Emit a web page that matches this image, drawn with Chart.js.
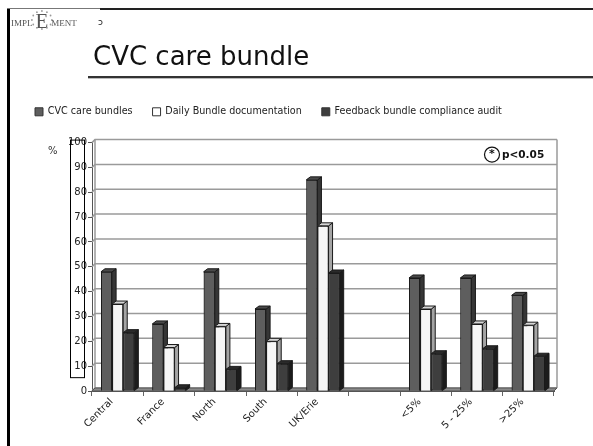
<!DOCTYPE html>
<html>
<head>
<meta charset="utf-8">
<script src="https://cdn.jsdelivr.net/npm/chart.js@4.4.1/dist/chart.umd.min.js"></script>
<style>
  html, body { margin: 0; padding: 0; background: #fff; }
  #wrap { position: relative; width: 593px; height: 446px; }
</style>
</head>
<body>
<div id="wrap"><canvas id="c" width="593" height="446"></canvas></div>
<script>
// Regions and hospital-size groups (blank slot separates the two groups)
const categories = ['Central', 'France', 'North', 'South', 'UK/Erie', '', '<5%', '5 - 25%', '>25%'];
// Percentages per series
const cvcCareBundles      = [48, 27, 48, 33, 85, null, 45.5, 45.5, 38.5];
const dailyDocumentation  = [35, 17.5, 26, 20, 66.5, null, 33, 27, 26.5];
const feedbackAudit       = [23.5, 1.3, 8.7, 11, 47.5, null, 15, 17, 14];
const seriesNames = ['CVC care bundles', 'Daily Bundle documentation', 'Feedback bundle compliance audit'];
const yMax = 100;
const yStep = 10;

const FONT = "'DejaVu Sans', Verdana, sans-serif";
const SERIF = "'Liberation Serif', 'DejaVu Serif', serif";

// front / side / top shades for the extruded columns
const shades = [
  { front: '#5e5e5e', side: '#363636', top: '#4a4a4a' },
  { front: '#f6f6f6', side: '#a4a4a4', top: '#d6d6d6' },
  { front: '#3e3e3e', side: '#1c1c1c', top: '#2a2a2a' }
];
const DEPTH_X = 4, DEPTH_Y = 3;   // column extrusion
const WALL_X = 3, WALL_Y = 3;     // back-wall offset

// slide frame, logo, heading, 3D extras
const slidePlugin = {
  id: 'slide',
  beforeDraw(chart) {
    const ctx = chart.ctx;
    ctx.save();
    ctx.fillStyle = '#fff';
    ctx.fillRect(0, 0, chart.width, chart.height);

    // frame
    ctx.fillStyle = '#000';
    ctx.fillRect(7, 8, 3, chart.height - 8);
    ctx.fillStyle = '#222';
    ctx.fillRect(100, 8, chart.width - 100, 2);
    ctx.fillStyle = '#777';
    ctx.fillRect(7, 8, 93, 1);

    // logo
    ctx.fillStyle = '#555';
    ctx.textBaseline = 'alphabetic';
    ctx.textAlign = 'left';
    ctx.font = '9px ' + SERIF;
    let x = 11;
    ctx.fillText('IMPL', x, 26);
    x += ctx.measureText('IMPL').width + 3;
    ctx.font = '21px ' + SERIF;
    ctx.fillText('E', x, 28);
    const eW = ctx.measureText('E').width;
    const cx = x + eW / 2, cy = 20;
    ctx.fillStyle = '#999';
    for (let k = 0; k < 12; k++) {
      const a = k / 12 * Math.PI * 2;
      ctx.beginPath();
      ctx.arc(cx + Math.cos(a) * 10, cy + Math.sin(a) * 9, 0.9, 0, Math.PI * 2);
      ctx.fill();
    }
    ctx.fillStyle = '#555';
    x += eW + 3;
    ctx.font = '9px ' + SERIF;
    ctx.fillText('MENT', x, 26);

    ctx.fillStyle = '#222';
    ctx.font = '9px ' + FONT;
    ctx.fillText('ɔ', 98, 25);

    // heading + rule
    ctx.fillStyle = '#111';
    ctx.font = '26px ' + FONT;
    ctx.fillText('CVC care bundle', 93, 65);
    ctx.fillStyle = '#333';
    ctx.fillRect(88, 76, chart.width - 88, 2);
    ctx.fillStyle = '#bbb';
    ctx.fillRect(88, 78, chart.width - 88, 1);
    ctx.restore();
  },
  beforeDatasetsDraw(chart) {
    const ctx = chart.ctx;
    const y = chart.scales.y;
    const a = chart.chartArea;
    ctx.save();
    // back wall grid
    ctx.strokeStyle = '#9a9a9a';
    ctx.lineWidth = 1.5;
    for (let v = 0; v <= yMax; v += yStep) {
      const py = y.getPixelForValue(v);
      ctx.beginPath();
      ctx.moveTo(a.left, py);
      ctx.lineTo(a.left + WALL_X, py - WALL_Y);
      ctx.lineTo(a.right + WALL_X, py - WALL_Y);
      ctx.stroke();
    }
    ctx.beginPath();
    ctx.moveTo(a.left + WALL_X, a.bottom - WALL_Y);
    ctx.lineTo(a.left + WALL_X, a.top - WALL_Y);
    ctx.moveTo(a.right + WALL_X, a.bottom - WALL_Y);
    ctx.lineTo(a.right + WALL_X, a.top - WALL_Y);
    ctx.stroke();
    // floor
    ctx.beginPath();
    ctx.moveTo(a.left, a.bottom);
    ctx.lineTo(a.right, a.bottom);
    ctx.lineTo(a.right + WALL_X, a.bottom - WALL_Y);
    ctx.lineTo(a.left + WALL_X, a.bottom - WALL_Y);
    ctx.closePath();
    ctx.fillStyle = '#8a8a8a';
    ctx.fill();
    ctx.strokeStyle = '#555';
    ctx.lineWidth = 1;
    ctx.stroke();
    ctx.restore();
  },
  afterDatasetsDraw(chart) {
    const ctx = chart.ctx;
    ctx.save();
    for (let i = 0; i < chart.data.datasets.length; i++) {
      const meta = chart.getDatasetMeta(i);
      const values = chart.data.datasets[i].data;
      const s = shades[i];
      meta.data.forEach((el, idx) => {
        if (values[idx] == null) return;
        const { x, y, base, width } = el.getProps(['x', 'y', 'base', 'width'], true);
        const l = x - width / 2, r = x + width / 2;
        el.draw(ctx);
        ctx.lineWidth = 1;
        ctx.strokeStyle = '#1a1a1a';
        // right face
        ctx.beginPath();
        ctx.moveTo(r, y);
        ctx.lineTo(r + DEPTH_X, y - DEPTH_Y);
        ctx.lineTo(r + DEPTH_X, base - DEPTH_Y);
        ctx.lineTo(r, base);
        ctx.closePath();
        ctx.fillStyle = s.side;
        ctx.fill();
        ctx.stroke();
        // top face
        ctx.beginPath();
        ctx.moveTo(l, y);
        ctx.lineTo(l + DEPTH_X, y - DEPTH_Y);
        ctx.lineTo(r + DEPTH_X, y - DEPTH_Y);
        ctx.lineTo(r, y);
        ctx.closePath();
        ctx.fillStyle = s.top;
        ctx.fill();
        ctx.stroke();
      });
    }
    ctx.restore();
  },
  afterDraw(chart) {
    const ctx = chart.ctx;
    const y = chart.scales.y;
    const a = chart.chartArea;
    ctx.save();
    // boxed value-axis labels
    ctx.strokeStyle = '#000';
    ctx.lineWidth = 1;
    ctx.strokeRect(70.5, a.top - 2.5, 14, y.getPixelForValue(yStep) - a.top + 14);
    ctx.fillStyle = '#333';
    ctx.font = '10px ' + FONT;
    ctx.textAlign = 'left';
    ctx.textBaseline = 'middle';
    ctx.fillText('%', 48, a.top + 9);

    // significance key
    ctx.beginPath();
    ctx.arc(492, a.top + 12, 7.5, 0, Math.PI * 2);
    ctx.fillStyle = '#fff';
    ctx.fill();
    ctx.strokeStyle = '#111';
    ctx.lineWidth = 1.2;
    ctx.stroke();
    ctx.fillStyle = '#111';
    ctx.font = 'bold 11px ' + FONT;
    ctx.textAlign = 'center';
    ctx.fillText('*', 492, a.top + 12);
    ctx.textAlign = 'left';
    ctx.font = 'bold 10.5px ' + FONT;
    ctx.fillText('p<0.05', 502, a.top + 13);
    ctx.restore();
  }
};

new Chart(document.getElementById('c'), {
  type: 'bar',
  data: {
    labels: categories,
    datasets: [
      { label: seriesNames[0], data: cvcCareBundles, backgroundColor: shades[0].front, borderColor: '#1a1a1a', borderWidth: 1 },
      { label: seriesNames[1], data: dailyDocumentation, backgroundColor: shades[1].front, borderColor: '#1a1a1a', borderWidth: 1 },
      { label: seriesNames[2], data: feedbackAudit, backgroundColor: shades[2].front, borderColor: '#1a1a1a', borderWidth: 1 }
    ]
  },
  options: {
    responsive: false,
    animation: false,
    categoryPercentage: 0.65,
    barPercentage: 1.0,
    layout: { padding: { top: 87, left: 15, right: 39, bottom: 0 } },
    plugins: {
      tooltip: { enabled: false },
      subtitle: { display: true, text: '', weight: 500, padding: 0, font: { size: 16, lineHeight: 1 } },
      legend: {
        position: 'top',
        align: 'start',
        labels: {
          boxWidth: 8,
          boxHeight: 8,
          padding: 20,
          color: '#222',
          font: { family: FONT, size: 9.6 },
          generateLabels(chart) {
            return chart.data.datasets.map((d, i) => ({
              text: d.label,
              fillStyle: i === 1 ? '#ffffff' : d.backgroundColor,
              strokeStyle: '#333',
              lineWidth: 1,
              datasetIndex: i,
              hidden: false,
              fontColor: '#222'
            }));
          }
        }
      }
    },
    scales: {
      x: {
        offset: true,
        grid: { display: true, drawOnChartArea: false, drawTicks: true, offset: true, tickLength: 5, color: '#666' },
        border: { display: true, color: '#555', width: 1 },
        ticks: { color: '#222', font: { family: FONT, size: 10 }, minRotation: 45, maxRotation: 45, autoSkip: false, padding: 0, labelOffset: -6 },
        afterFit(s) { s.height = 55; }
      },
      y: {
        min: 0,
        max: yMax,
        ticks: { stepSize: yStep, color: '#222', font: { family: FONT, size: 10 }, padding: 1 },
        grid: { drawOnChartArea: false, drawTicks: true, tickLength: 4, color: '#555' },
        border: { display: true, color: '#555', width: 1 },
        afterFit(s) { s.width = 77; }
      }
    }
  },
  plugins: [slidePlugin]
});
</script>
</body>
</html>
